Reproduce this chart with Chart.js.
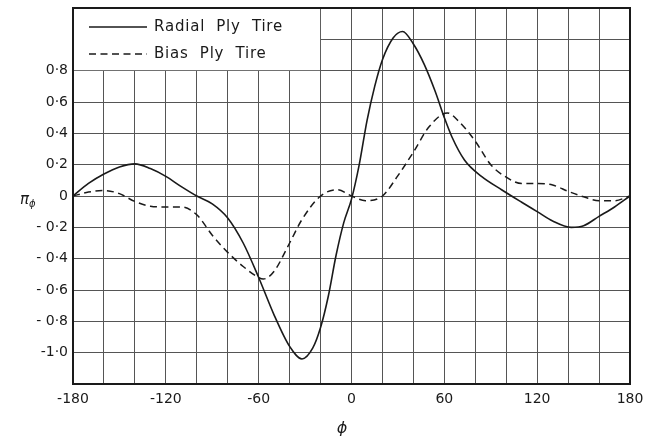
<!DOCTYPE html>
<html><head><meta charset="utf-8">
<script src="https://cdn.jsdelivr.net/npm/chart.js@4.4.1/dist/chart.umd.min.js"></script>
<style>html,body{margin:0;padding:0;background:#fff}#wrap{width:645px;height:441px}</style>
</head><body><div id="wrap"><canvas id="c" width="645" height="441"></canvas></div>
<script>
// Data (phi in degrees, pi_phi dimensionless)
const radialPhi = [-180,-170,-160,-150,-140,-130,-120,-110,-100,-90,-80,-70,-60,-50,-40,-32,-25,-20,-15,-10,-5,0,5,10,15,20,27,33,40,47,54,60,65,73,84,97,110,120,130,142,150,160,170,180];
const radialPi  = [0,0.08,0.14,0.185,0.205,0.175,0.125,0.06,0.0,-0.05,-0.14,-0.3,-0.52,-0.76,-0.96,-1.04,-0.97,-0.84,-0.64,-0.38,-0.17,-0.02,0.2,0.48,0.7,0.87,1.01,1.05,0.97,0.84,0.67,0.5,0.375,0.23,0.125,0.04,-0.04,-0.1,-0.16,-0.2,-0.19,-0.13,-0.07,0];
const biasPhi = [-180,-170,-160,-150,-140,-130,-120,-110,-100,-90,-80,-70,-60,-57,-50,-40,-32,-20,-9,0,9,20,30,40,50,62,69,80,90,100,110,120,130,140,150,160,170,180];
const biasPi  = [0,0.025,0.035,0.015,-0.035,-0.065,-0.07,-0.07,-0.12,-0.25,-0.36,-0.45,-0.52,-0.53,-0.48,-0.3,-0.15,0.0,0.04,0.0,-0.03,0.0,0.13,0.28,0.44,0.53,0.48,0.35,0.2,0.12,0.08,0.08,0.07,0.03,-0.005,-0.03,-0.03,0];
const seriesNames = ['Radial Ply Tire','Bias Ply Tire'];
const xTickLabels = [-180,-120,-60,0,60,120,180];
const yTickValues = [0.8,0.6,0.4,0.2,0,-0.2,-0.4,-0.6,-0.8,-1.0];
const yTickLabels = ['0·8','0·6','0·4','0·2','0','- 0·2','- 0·4','- 0·6','- 0·8','-1·0'];
const xTitle = 'ϕ';
const yTitleMain = 'π';
const yTitleSub = 'ϕ';

const toPts = (xs, ys) => xs.map((x, i) => ({x, y: ys[i]}));
const INK = '#1a1a1a';
const GRID = '#555';
const FONT = '"DejaVu Sans", sans-serif';

const decor = {
  id: 'decor',
  beforeDatasetsDraw(chart) {
    const {ctx, chartArea: a, scales: {x, y}} = chart;
    const rx = x.getPixelForValue(-20), by = y.getPixelForValue(0.8);
    ctx.save();
    ctx.fillStyle = '#fff';
    ctx.fillRect(a.left + 1, a.top + 1, rx - a.left - 1.5, by - a.top - 1.5);
    ctx.restore();
  },
  afterDraw(chart) {
    const {ctx, chartArea: a} = chart;
    ctx.save();
    ctx.strokeStyle = INK;
    ctx.lineWidth = 2;
    ctx.strokeRect(a.left, a.top, a.right - a.left, a.bottom - a.top);
    const lx0 = a.left + 16, lx1 = a.left + 74, tx = a.left + 81;
    const ly = [a.top + 19, a.top + 46];
    ctx.lineWidth = 1.4;
    ctx.beginPath(); ctx.setLineDash([]); ctx.moveTo(lx0, ly[0]); ctx.lineTo(lx1, ly[0]); ctx.stroke();
    ctx.beginPath(); ctx.setLineDash([7, 4.5]); ctx.moveTo(lx0, ly[1]); ctx.lineTo(lx1, ly[1]); ctx.stroke();
    ctx.setLineDash([]);
    ctx.fillStyle = INK;
    ctx.font = '15px ' + FONT;
    ctx.textBaseline = 'middle';
    ctx.textAlign = 'left';
    if ('letterSpacing' in ctx) ctx.letterSpacing = '0.8px';
    ctx.fillText(seriesNames[0].replace(/ /g, '  '), tx, ly[0]);
    ctx.fillText(seriesNames[1].replace(/ /g, '  '), tx, ly[1]);
    if ('letterSpacing' in ctx) ctx.letterSpacing = '0px';
    ctx.font = 'italic 16px ' + FONT;
    ctx.textAlign = 'center';
    ctx.fillText(xTitle, 342, 429);
    ctx.font = 'italic 15px ' + FONT;
    ctx.textAlign = 'left';
    ctx.fillText(yTitleMain, 20, 200);
    ctx.font = 'italic 10px ' + FONT;
    ctx.fillText(yTitleSub, 29, 204);
    ctx.restore();
  }
};

new Chart(document.getElementById('c'), {
  type: 'line',
  data: {
    datasets: [
      {label: seriesNames[0], data: toPts(radialPhi, radialPi), borderColor: INK, borderWidth: 1.6,
       pointRadius: 0, fill: false, cubicInterpolationMode: 'monotone'},
      {label: seriesNames[1], data: toPts(biasPhi, biasPi), borderColor: INK, borderWidth: 1.5,
       borderDash: [7, 4.5], pointRadius: 0, fill: false, cubicInterpolationMode: 'monotone'}
    ]
  },
  options: {
    responsive: false, animation: false, devicePixelRatio: 1,
    layout: {padding: {top: 8, right: 15, left: 0, bottom: 0}},
    plugins: {legend: {display: false}, tooltip: {enabled: false}},
    scales: {
      x: {
        type: 'linear', min: -180, max: 180,
        afterFit: s => { s.height = 57; s.paddingLeft = 0; s.paddingRight = 0; },
        grid: {color: GRID, lineWidth: 1, drawTicks: false},
        border: {display: false},
        ticks: {stepSize: 20, padding: 7, color: INK, font: {family: FONT, size: 14}, maxRotation: 0, autoSkip: false,
          callback: v => xTickLabels.includes(Math.round(v)) ? String(Math.round(v)) : ''}
      },
      y: {
        type: 'linear', min: -1.2, max: 1.2,
        afterFit: s => { s.width = 73; s.paddingTop = 0; s.paddingBottom = 0; },
        grid: {color: GRID, lineWidth: 1, drawTicks: false},
        border: {display: false},
        ticks: {stepSize: 0.2, padding: 5, color: INK, font: {family: FONT, size: 14}, autoSkip: false,
          callback: v => { const r = Math.round(v * 10) / 10; const i = yTickValues.findIndex(t => Math.abs(t - r) < 1e-6); return i >= 0 ? yTickLabels[i] : ''; }}
      }
    }
  },
  plugins: [decor]
});
</script></body></html>
